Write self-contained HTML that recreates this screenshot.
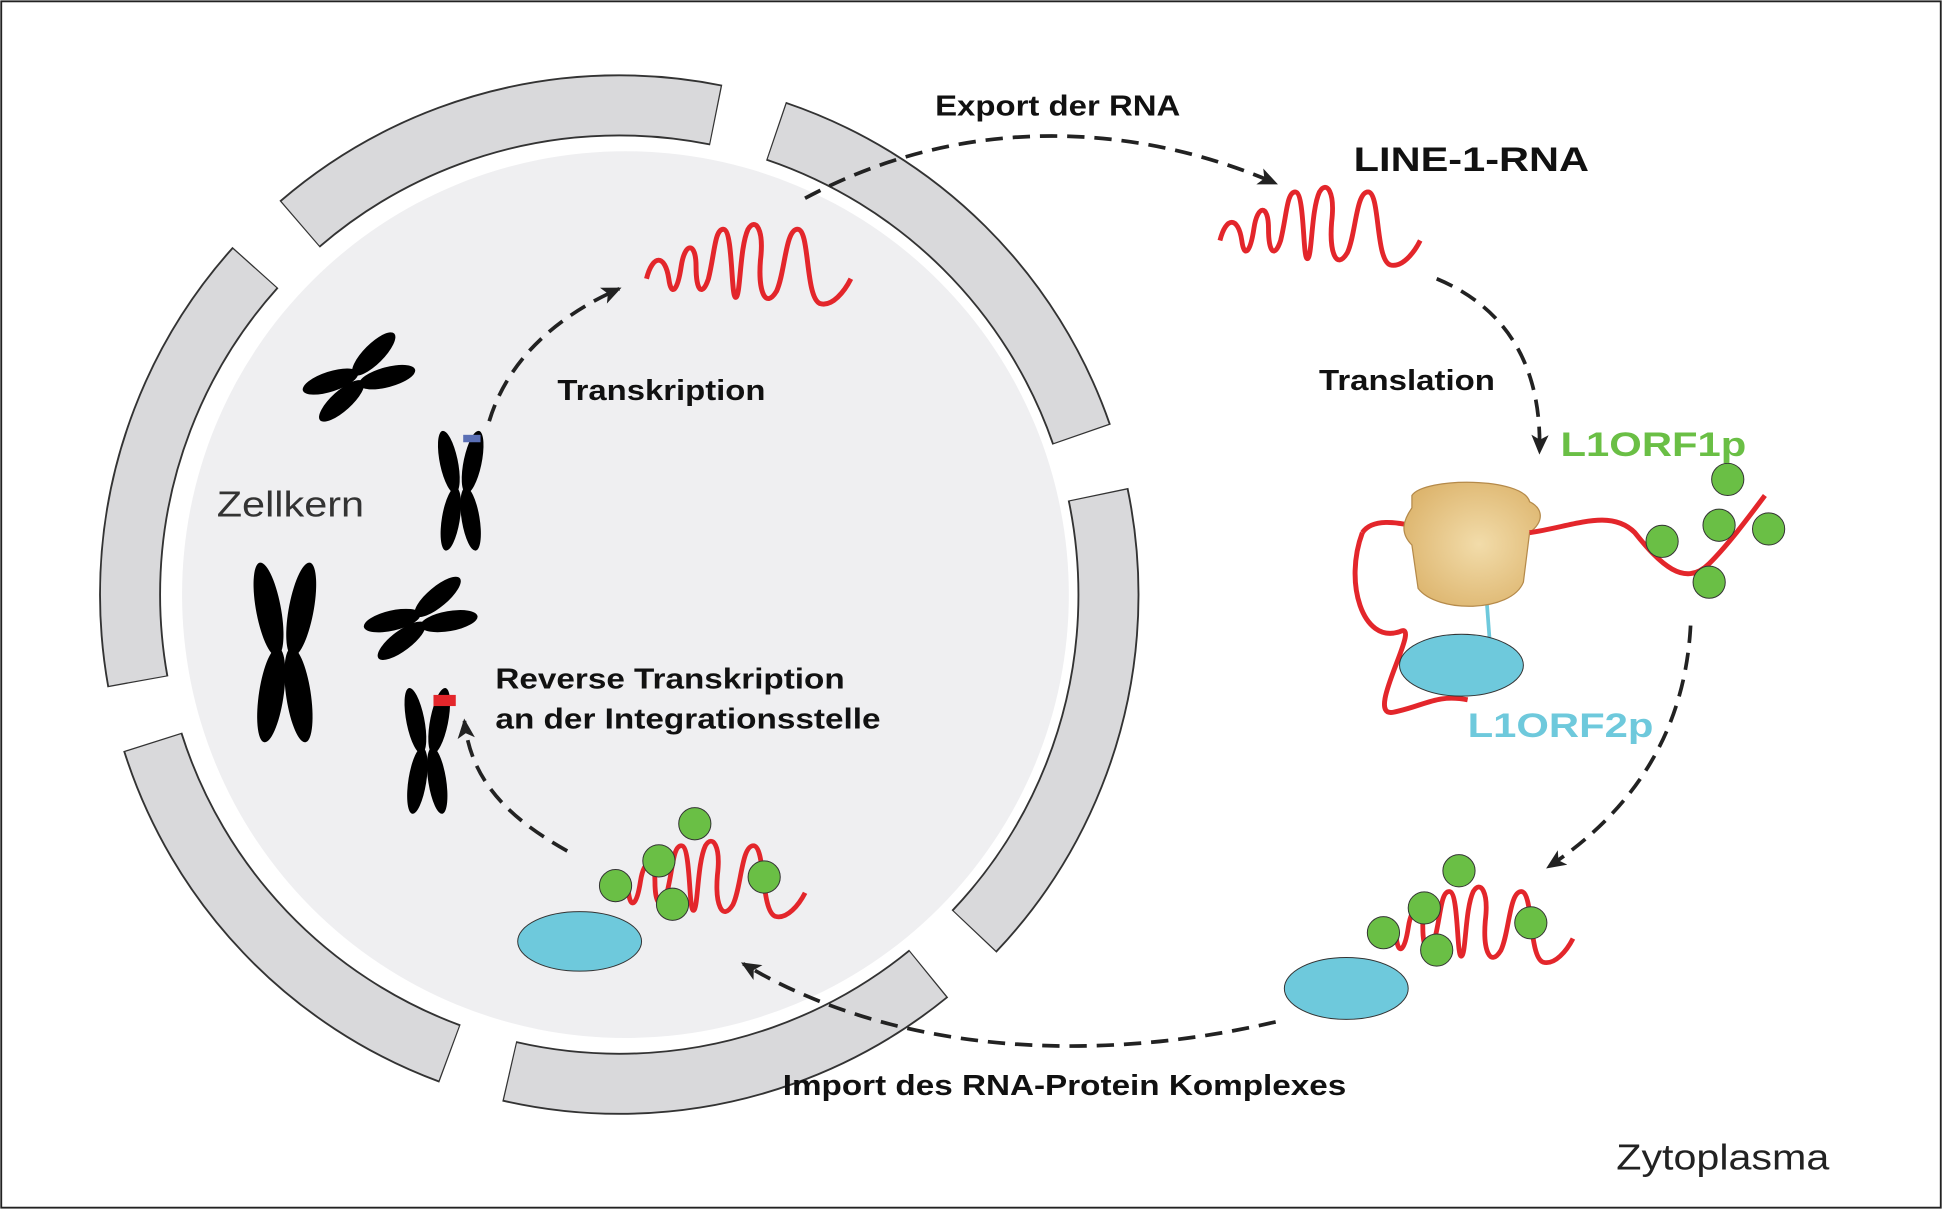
<!DOCTYPE html>
<html><head><meta charset="utf-8"><style>
html,body{margin:0;padding:0;background:#fff;}
svg{display:block;}
text{font-family:"Liberation Sans",Arial,sans-serif;}
</style></head><body>
<svg width="1942" height="1209" viewBox="0 0 1568 976" xmlns="http://www.w3.org/2000/svg">
<defs>
<marker id="ah2" markerWidth="16" markerHeight="14" refX="14" refY="7" orient="auto" markerUnits="userSpaceOnUse"><path d="M0,0 L16,7 L0,14 L4,7 Z" fill="#222"/></marker>
<path id="sq" d="M0,45 C5,25 15,25 18,45 C20,60 25,55 28,35 C31,15 40,15 40,35 C40,55 45,60 50,45 C55,25 55,5 62,5 C70,5 68,60 72,60 C76,60 75,20 82,5 C88,-5 95,5 92,30 C90,55 96,70 105,55 C112,40 112,5 122,5 C132,5 128,60 140,65 C150,68 160,55 165,45" fill="none" stroke="#e3262b" stroke-width="4"/>
<g id="chrX"><ellipse cx="-12" cy="-22" rx="9" ry="26" transform="rotate(-15 -12 -22)"/><ellipse cx="12" cy="-22" rx="9" ry="26" transform="rotate(15 12 -22)"/><ellipse cx="-10" cy="24" rx="9" ry="26" transform="rotate(12 -10 24)"/><ellipse cx="10" cy="24" rx="9" ry="26" transform="rotate(-12 10 24)"/></g>
<radialGradient id="rib" cx="0.55" cy="0.5" r="0.6"><stop offset="0" stop-color="#f2dcaa"/><stop offset="1" stop-color="#ddb56e"/></radialGradient>
</defs>
<rect x="1" y="1" width="1566" height="974" fill="#fff" stroke="#222" stroke-width="1.5"/>
<circle cx="505" cy="480" r="358" fill="#efeff1"/>
<g>
<circle cx="500" cy="480" r="395" fill="none" stroke="#333" stroke-width="50" stroke-dasharray="360 50" stroke-dashoffset="60"/>
<circle cx="500" cy="480" r="395" fill="none" stroke="#d9d9db" stroke-width="47" stroke-dasharray="358 52" stroke-dashoffset="59"/>
</g>
<g fill="#000">
<use href="#chrX" transform="translate(290,305) rotate(60) scale(0.9)"/>
<use href="#chrX" transform="translate(372,395) scale(0.8,1)"/>
<use href="#chrX" transform="translate(230,525) scale(1.1,1.5)"/>
<use href="#chrX" transform="translate(340,500) rotate(65) scale(0.9)"/>
<use href="#chrX" transform="translate(345,605) scale(0.8,1.05)"/>
<rect x="374" y="351" width="14" height="6" fill="#5a6fb5"/>
<rect x="350" y="561" width="18" height="9" fill="#e3262b"/>
</g>
<use href="#sq" transform="translate(522,180)"/>
<use href="#sq" transform="translate(985,150) scale(0.98)"/>
<g>
<path d="M1100,430 C1085,470 1100,520 1130,510 C1150,500 1100,580 1125,575 C1150,570 1160,560 1185,565" fill="none" stroke="#e3262b" stroke-width="4"/>
<path d="M1100,430 C1110,415 1140,425 1145,425" fill="none" stroke="#e3262b" stroke-width="4"/>
<line x1="1200" y1="480" x2="1203" y2="520" stroke="#6ec9dc" stroke-width="3"/>
<ellipse cx="1180" cy="537" rx="50" ry="25" fill="#6ec9dc" stroke="#333" stroke-width="0.8"/>
<path d="M1140,400 C1150,385 1230,385 1235,405 C1245,410 1248,420 1235,430 L1230,470 C1220,495 1160,495 1145,475 L1140,440 C1130,430 1133,420 1140,410 Z" fill="url(#rib)" stroke="#b58a4a" stroke-width="1"/>
<path d="M1235,430 C1270,425 1300,410 1320,430 C1340,455 1360,475 1380,455 C1395,440 1410,420 1425,400" fill="none" stroke="#e3262b" stroke-width="4"/>
<g fill="#6abf45" stroke="#333" stroke-width="0.8">
<circle cx="1342" cy="437" r="13"/><circle cx="1388" cy="424" r="13"/><circle cx="1395" cy="387" r="13"/><circle cx="1428" cy="427" r="13"/><circle cx="1380" cy="470" r="13"/>
</g></g>
<g>
<ellipse cx="1087" cy="798" rx="50" ry="25" fill="#6ec9dc" stroke="#333" stroke-width="0.8"/>
<use href="#sq" transform="translate(1110,715) scale(0.97,0.95)"/>
<g fill="#6abf45" stroke="#333" stroke-width="0.8"><circle cx="1178" cy="703" r="13"/><circle cx="1150" cy="733" r="13"/><circle cx="1117" cy="753" r="13"/><circle cx="1160" cy="767" r="13"/><circle cx="1236" cy="745" r="13"/></g>
</g>
<g>
<ellipse cx="468" cy="760" rx="50" ry="24" fill="#6ec9dc" stroke="#333" stroke-width="0.8"/>
<use href="#sq" transform="translate(490,678) scale(0.97,0.95)"/>
<g fill="#6abf45" stroke="#333" stroke-width="0.8"><circle cx="561" cy="665" r="13"/><circle cx="532" cy="695" r="13"/><circle cx="497" cy="715" r="13"/><circle cx="543" cy="730" r="13"/><circle cx="617" cy="708" r="13"/></g>
</g>
<g fill="none" stroke="#222" stroke-width="3" stroke-dasharray="14 8">
<path d="M650,160 C780,90 920,100 1030,148" marker-end="url(#ah2)"/>
<path d="M1160,225 C1220,250 1245,300 1243,365" marker-end="url(#ah2)"/>
<path d="M1365,505 C1360,600 1310,660 1250,700" marker-end="url(#ah2)"/>
<path d="M1030,825 C880,860 720,850 600,778" marker-end="url(#ah2)"/>
<path d="M458,687 C410,660 380,630 375,582" marker-end="url(#ah2)"/>
<path d="M395,340 C410,290 450,255 500,233" marker-end="url(#ah2)"/>
</g>
<text x="755" y="93" font-size="23" font-weight="bold" fill="#111" textLength="198" lengthAdjust="spacingAndGlyphs">Export der RNA</text>
<text x="1093" y="138" font-size="28" font-weight="bold" fill="#111" textLength="190" lengthAdjust="spacingAndGlyphs">LINE-1-RNA</text>
<text x="450" y="323" font-size="23" font-weight="bold" fill="#111" textLength="168" lengthAdjust="spacingAndGlyphs">Transkription</text>
<text x="1065" y="315" font-size="23" font-weight="bold" fill="#111" textLength="142" lengthAdjust="spacingAndGlyphs">Translation</text>
<text x="1260" y="368" font-size="28" font-weight="bold" fill="#6abf45" textLength="150" lengthAdjust="spacingAndGlyphs">L1ORF1p</text>
<text x="175" y="417" font-size="29" fill="#333" textLength="119" lengthAdjust="spacingAndGlyphs">Zellkern</text>
<text x="400" y="556" font-size="23" font-weight="bold" fill="#111" textLength="282" lengthAdjust="spacingAndGlyphs">Reverse Transkription</text>
<text x="400" y="588" font-size="23" font-weight="bold" fill="#111" textLength="311" lengthAdjust="spacingAndGlyphs">an der Integrationsstelle</text>
<text x="1185" y="595" font-size="28" font-weight="bold" fill="#6ec9dc" textLength="150" lengthAdjust="spacingAndGlyphs">L1ORF2p</text>
<text x="632" y="884" font-size="23" font-weight="bold" fill="#111" textLength="455" lengthAdjust="spacingAndGlyphs">Import des RNA-Protein Komplexes</text>
<text x="1305" y="944" font-size="29" fill="#222" textLength="172" lengthAdjust="spacingAndGlyphs">Zytoplasma</text>
</svg>
</body></html>
